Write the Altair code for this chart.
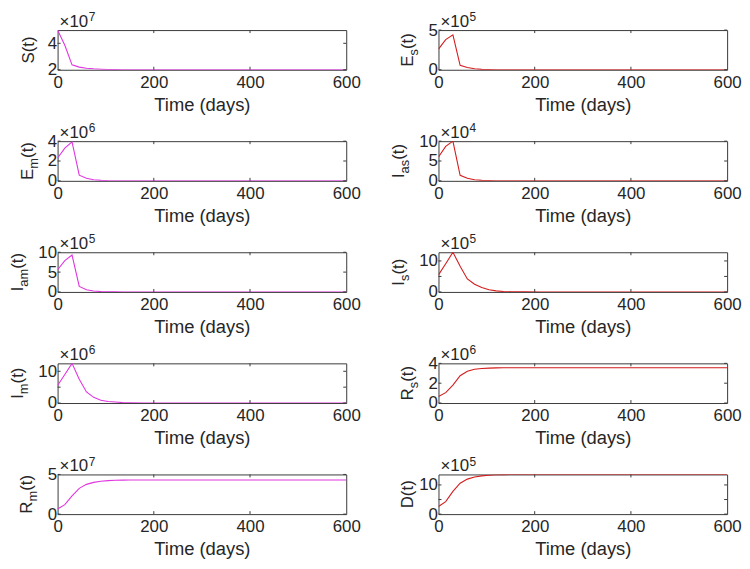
import altair as alt
import pandas as pd

# ---- data ----
T = [0, 15, 30, 45, 60, 75, 90, 105, 120, 135, 150, 180, 210, 300, 400, 500, 600]

S_vals = [5.0, 3.85, 2.37, 2.2, 2.12, 2.07, 2.04, 2.02, 2.01, 2.005, 2.0, 2.0, 2.0, 2.0, 2.0, 2.0, 2.0]          # x1e7
Es_vals = [2.6, 3.8, 4.4, 0.55, 0.28, 0.12, 0.05, 0.02, 0.01, 0.0, 0.0, 0.0, 0.0, 0.0, 0.0, 0.0, 0.0]           # x1e5
Em_vals = [2.3, 3.3, 3.93, 0.57, 0.27, 0.11, 0.05, 0.02, 0.01, 0.0, 0.0, 0.0, 0.0, 0.0, 0.0, 0.0, 0.0]          # x1e6
Ias_vals = [6.0, 8.7, 10.0, 1.4, 0.65, 0.28, 0.13, 0.06, 0.03, 0.01, 0.0, 0.0, 0.0, 0.0, 0.0, 0.0, 0.0]         # x1e4
Iam_vals = [5.6, 7.9, 9.3, 1.4, 0.55, 0.25, 0.1, 0.05, 0.02, 0.0, 0.0, 0.0, 0.0, 0.0, 0.0, 0.0, 0.0]            # x1e5
Is_vals = [5.5, 9.1, 12.8, 8.3, 4.2, 2.5, 1.4, 0.7, 0.35, 0.15, 0.07, 0.02, 0.005, 0.0, 0.0, 0.0, 0.0]         # x1e5
Im_vals = [5.5, 9.0, 12.5, 7.5, 3.5, 1.8, 0.9, 0.5, 0.3, 0.15, 0.08, 0.02, 0.005, 0.0, 0.0, 0.0, 0.0]          # x1e6
Rs_vals = [0.65, 1.05, 1.8, 2.75, 3.2, 3.4, 3.48, 3.52, 3.54, 3.55, 3.55, 3.55, 3.55, 3.55, 3.55, 3.55, 3.55]   # x1e6
Rm_vals = [0.65, 1.2, 2.3, 3.25, 3.75, 4.0, 4.15, 4.22, 4.26, 4.28, 4.3, 4.3, 4.3, 4.3, 4.3, 4.3, 4.3]          # x1e7
D_vals = [2.6, 4.3, 7.8, 10.6, 12.0, 12.7, 13.1, 13.35, 13.5, 13.55, 13.6, 13.6, 13.6, 13.6, 13.6, 13.6, 13.6]  # x1e5

X_TICKS = [0, 200, 400, 600]
X_TITLE = "Time (days)"

# label parts: (main, subscript, tail), exponent, y-domain, y-ticks
PANELS = [
    ("S", "", "(t)", "7", [2, 5], [2, 4], S_vals, "m", -24),
    ("E", "s", "(t)", "5", [0, 5], [0, 5], Es_vals, "r", -26),
    ("E", "m", "(t)", "6", [0, 4], [0, 2, 4], Em_vals, "m", -25),
    ("I", "as", "(t)", "4", [0, 10], [0, 5, 10], Ias_vals, "r", -35),
    ("I", "am", "(t)", "5", [0, 10], [0, 5, 10], Iam_vals, "m", -35),
    ("I", "s", "(t)", "5", [0, 12.8], [0, 5, 10], Is_vals, "r", -35),
    ("I", "m", "(t)", "6", [0, 12.5], [0, 5, 10], Im_vals, "m", -35),
    ("R", "s", "(t)", "6", [0, 4], [0, 2, 4], Rs_vals, "r", -26),
    ("R", "m", "(t)", "7", [0, 5], [0, 5], Rm_vals, "m", -26),
    ("D", "", "(t)", "5", [0, 13.6], [0, 5, 10], D_vals, "r", -26),
]

COLORS = {"m": "#e035e0", "r": "#d41c1c"}
W, H = 291, 40
FONT = "Liberation Sans"
FS = 17
SUB_FS = 13
FRAME = "#3a3a3a"
TXT = "#262626"

CW = {"S": .667, "E": .667, "I": .278, "R": .722, "D": .722, "(": .333, "t": .278,
      ")": .333, "s": .5, "m": .833, "a": .556}


def width(s, fs):
    return sum(CW.get(c, .556) for c in s) * fs


def text_layer(txt, x, y, fs, angle=0, align="left", baseline="alphabetic"):
    return alt.Chart(pd.DataFrame({"k": [0]})).mark_text(
        font=FONT, fontSize=fs, color=TXT, angle=angle, align=align, baseline=baseline
    ).encode(x=alt.value(x), y=alt.value(y), text=alt.value(txt))


def panel(main, sub, tail, expo, dom, ticks, vals, col, xoff):
    df = pd.DataFrame({"t": T, "v": vals})
    xs = alt.Scale(domain=[0, 600], nice=False)
    ys = alt.Scale(domain=dom, nice=False, zero=False)
    xax = alt.Axis(values=X_TICKS, title=X_TITLE, format="d", labelFlush=False)
    yax = alt.Axis(values=ticks, title=None, format="d", labelFlush=False)
    line = alt.Chart(df).mark_line(color=COLORS[col], strokeWidth=1.1, clip=True).encode(
        x=alt.X("t:Q", scale=xs, axis=xax),
        y=alt.Y("v:Q", scale=ys, axis=yax),
    )
    xt = pd.DataFrame({"t": X_TICKS[1:-1]})
    yt = pd.DataFrame({"v": ticks})
    tick_layers = [
        alt.Chart(xt).mark_rule(color=FRAME, strokeWidth=1).encode(
            x=alt.X("t:Q", scale=xs, axis=xax), y=alt.value(0), y2=alt.value(3)),
        alt.Chart(xt).mark_rule(color=FRAME, strokeWidth=1).encode(
            x=alt.X("t:Q", scale=xs, axis=xax), y=alt.value(H - 3), y2=alt.value(H)),
        alt.Chart(yt).mark_rule(color=FRAME, strokeWidth=1).encode(
            y=alt.Y("v:Q", scale=ys, axis=yax), x=alt.value(0), x2=alt.value(3)),
        alt.Chart(yt).mark_rule(color=FRAME, strokeWidth=1).encode(
            y=alt.Y("v:Q", scale=ys, axis=yax), x=alt.value(W - 3), x2=alt.value(W)),
    ]
    # rotated y label built from parts
    total = width(main, FS) + width(sub, SUB_FS) + width(tail, FS)
    y0 = H / 2 + total / 2
    texts = [text_layer(main, xoff, y0, FS, angle=270)]
    y1 = y0 - width(main, FS)
    if sub:
        texts.append(text_layer(sub, xoff + 5, y1, SUB_FS, angle=270))
        y1 -= width(sub, SUB_FS)
    texts.append(text_layer(tail, xoff, y1, FS, angle=270))
    # exponent
    texts.append(text_layer("\u00d710", 2, -3, FS))
    texts.append(text_layer(expo, 2 + width("x10", FS) + 1, -9, 12))
    return alt.layer(line, *tick_layers, *texts).properties(width=W, height=H)


charts = [panel(*p) for p in PANELS]

chart = alt.concat(*charts, columns=2, spacing={"row": 72, "column": 93}, bounds="flush").properties(
    padding={"left": 0, "top": 0, "right": 0, "bottom": 0}
).configure_view(stroke=FRAME, strokeWidth=1).configure_axis(
    domain=False, ticks=False, grid=False,
    labelFont=FONT, labelFontSize=FS, labelColor=TXT,
    titleFont=FONT, titleFontSize=18.5, titleFontWeight="normal", titleColor=TXT,
).configure_axisX(labelPadding=5, titlePadding=5).configure_axisY(labelPadding=1)

chart.save("out.html", embed_options={"renderer": "svg", "actions": False})
